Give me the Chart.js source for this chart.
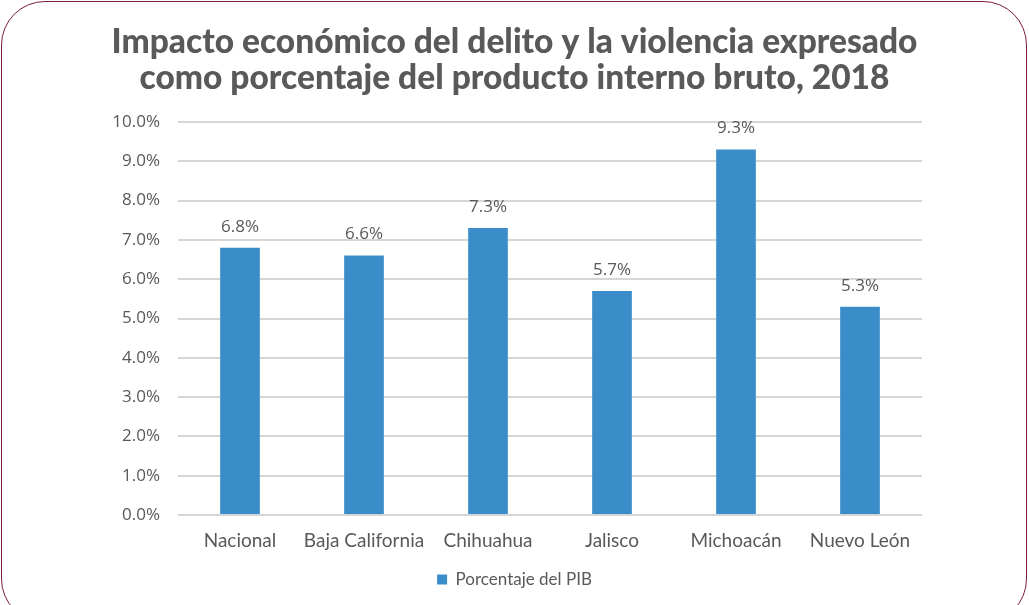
<!DOCTYPE html>
<html>
<head>
<meta charset="utf-8">
<script src="https://cdn.jsdelivr.net/npm/chart.js@4"></script>
<style>
  html, body { margin: 0; padding: 0; background: #ffffff; overflow: hidden; }
  #wrap { position: relative; width: 1029px; height: 605px; overflow: hidden; }
  #frame { position: absolute; left: 1px; top: 1px; width: 1026px; height: 622px;
           border: 1.5px solid #7a1d3c; border-radius: 44px; box-sizing: border-box; }
  #c { position: absolute; left: 0; top: 0; }
</style>
</head>
<body>
<div id="wrap">
  <div id="frame"></div>
  <canvas id="c" width="1029" height="605"></canvas>
</div>
<script>
const titleLines = ["Impacto económico del delito y la violencia expresado", "como porcentaje del producto interno bruto, 2018"];
const categories = ["Nacional", "Baja California", "Chihuahua", "Jalisco", "Michoacán", "Nuevo León"];
const seriesName = "Porcentaje del PIB";
const values = [6.8, 6.6, 7.3, 5.7, 9.3, 5.3];
const yMin = 0, yMax = 10, yStep = 1;

const barColor = "#3b8dca";
const textColor = "#595959";

const valueLabels = {
  id: "valueLabels",
  afterDatasetsDraw(chart) {
    const ctx = chart.ctx;
    const meta = chart.getDatasetMeta(0);
    ctx.save();
    ctx.font = "17px 'Open Sans'";
    ctx.fillStyle = textColor;
    ctx.textAlign = "center";
    ctx.textBaseline = "middle";
    meta.data.forEach((bar, i) => {
      ctx.fillText(values[i].toFixed(1) + "%", bar.x, bar.y - 21);
    });
    ctx.restore();
  }
};

new Chart(document.getElementById("c"), {
  type: "bar",
  data: {
    labels: categories,
    datasets: [{
      label: seriesName,
      data: values,
      backgroundColor: barColor,
      borderWidth: 0,
      categoryPercentage: 0.32,
      barPercentage: 1.0,
      yAxisID: "y"
    }]
  },
  options: {
    responsive: false,
    animation: false,
    devicePixelRatio: 1,
    layout: { padding: { left: 0, right: 0, top: 6, bottom: 7 } },
    plugins: {
      title: {
        display: true,
        text: titleLines,
        color: textColor,
        font: { family: "Lato", size: 33.5, weight: "900", lineHeight: 36 / 33.5 },
        padding: { top: 18, bottom: 26 }
      },
      legend: {
        display: true,
        position: "bottom",
        labels: {
          color: textColor,
          font: { family: "Lato", size: 17 },
          boxWidth: 10,
          boxHeight: 10,
          padding: 8
        }
      },
      tooltip: { enabled: false }
    },
    scales: {
      x: {
        grid: { display: false, drawTicks: false },
        border: { display: false },
        ticks: { color: textColor, font: { family: "Lato", size: 19 }, padding: 14, maxRotation: 0 },
        afterFit(s) { s.height = 48; }
      },
      y: {
        min: yMin,
        max: yMax,
        grid: { color: "#d6d6d6", lineWidth: 2, drawTicks: false },
        border: { display: false },
        ticks: {
          stepSize: yStep,
          color: textColor,
          font: { family: "Open Sans", size: 17 },
          padding: 18,
          callback: v => v.toFixed(1) + "%"
        },
        afterFit(s) { s.width = 178; }
      },
      yRight: {
        position: "right",
        min: yMin,
        max: yMax,
        grid: { display: false, drawTicks: false },
        border: { display: false },
        ticks: { display: false },
        afterFit(s) { s.width = 107; }
      }
    }
  },
  plugins: [valueLabels]
});
</script>
</body>
</html>
